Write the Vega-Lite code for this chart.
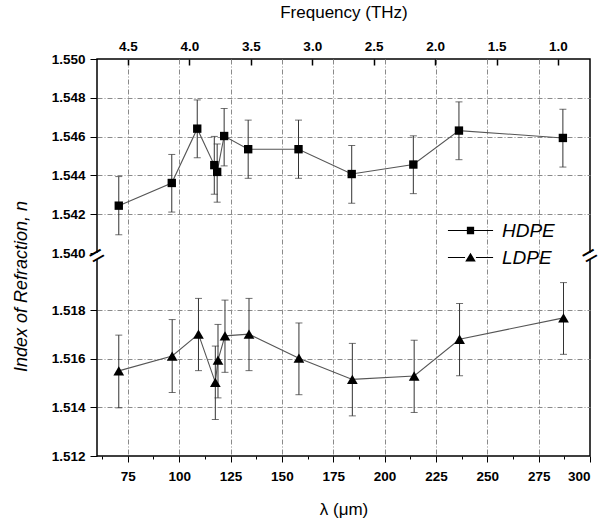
{
  "$schema": "https://vega.github.io/schema/vega-lite/v6.json",
  "width": 493,
  "height": 397,
  "autosize": "none",
  "padding": {"left": 97, "top": 59, "right": 10, "bottom": 67},
  "background": "white",
  "config": {
    "view": {"stroke": "black", "strokeWidth": 1.5},
    "font": "Liberation Sans",
    "axis": {"labelColor": "black", "titleColor": "black", "tickColor": "black", "labelFont": "Liberation Sans", "titleFont": "Liberation Sans"}
  },
  "datasets": {
    "pts": [
      {"series": "HDPE", "lam": 70.6, "n": 1.54244, "lo": 1.54094, "hi": 1.54394},
      {"series": "HDPE", "lam": 96.4, "n": 1.54361, "lo": 1.54211, "hi": 1.54508},
      {"series": "HDPE", "lam": 108.8, "n": 1.54641, "lo": 1.54491, "hi": 1.54789},
      {"series": "HDPE", "lam": 117.1, "n": 1.54453, "lo": 1.54303, "hi": 1.54601},
      {"series": "HDPE", "lam": 118.5, "n": 1.54418, "lo": 1.54262, "hi": 1.54562},
      {"series": "HDPE", "lam": 121.9, "n": 1.54603, "lo": 1.54449, "hi": 1.54745},
      {"series": "HDPE", "lam": 133.6, "n": 1.54535, "lo": 1.54385, "hi": 1.54685},
      {"series": "HDPE", "lam": 158.1, "n": 1.54535, "lo": 1.54385, "hi": 1.54685},
      {"series": "HDPE", "lam": 184.0, "n": 1.54407, "lo": 1.54257, "hi": 1.54554},
      {"series": "HDPE", "lam": 214.0, "n": 1.54456, "lo": 1.54306, "hi": 1.54604},
      {"series": "HDPE", "lam": 236.2, "n": 1.54631, "lo": 1.54481, "hi": 1.54779},
      {"series": "HDPE", "lam": 286.8, "n": 1.54593, "lo": 1.54443, "hi": 1.54741},
      {"series": "LDPE", "lam": 70.6, "n": 1.5155, "lo": 1.51398, "hi": 1.51697},
      {"series": "LDPE", "lam": 96.6, "n": 1.51611, "lo": 1.51461, "hi": 1.51761},
      {"series": "LDPE", "lam": 109.4, "n": 1.51701, "lo": 1.51551, "hi": 1.51848},
      {"series": "LDPE", "lam": 117.6, "n": 1.51503, "lo": 1.5135, "hi": 1.51652},
      {"series": "LDPE", "lam": 118.9, "n": 1.51594, "lo": 1.51439, "hi": 1.51741},
      {"series": "LDPE", "lam": 122.3, "n": 1.51694, "lo": 1.51544, "hi": 1.51841},
      {"series": "LDPE", "lam": 134.0, "n": 1.51701, "lo": 1.51551, "hi": 1.51848},
      {"series": "LDPE", "lam": 158.3, "n": 1.51602, "lo": 1.51452, "hi": 1.51747},
      {"series": "LDPE", "lam": 184.3, "n": 1.51515, "lo": 1.51365, "hi": 1.51663},
      {"series": "LDPE", "lam": 214.4, "n": 1.51529, "lo": 1.51379, "hi": 1.51676},
      {"series": "LDPE", "lam": 236.5, "n": 1.5168, "lo": 1.5153, "hi": 1.51827},
      {"series": "LDPE", "lam": 287.1, "n": 1.51768, "lo": 1.51618, "hi": 1.51913}
    ],
    "breaks": [{"side": 60, "gap": 1.53}, {"side": 300, "gap": 1.53}],
    "freq": [{"f": 2.5}]
  },
  "layer": [
    {
      "data": {"name": "pts"},
      "encoding": {
        "x": {
          "field": "lam", "type": "quantitative",
          "scale": {"domain": [60, 300], "nice": false, "zero": false},
          "axis": {
            "orient": "bottom",
            "values": [62.5, 75, 87.5, 100, 112.5, 125, 137.5, 150, 162.5, 175, 187.5, 200, 212.5, 225, 237.5, 250, 262.5, 275, 287.5, 300],
            "labelExpr": "datum.value % 25 === 0 ? datum.label : ''",
            "tickSize": {"condition": {"test": "datum.value % 25 === 0", "value": 6}, "value": 3},
            "tickWidth": 1,
            "labelFontSize": 13.5, "labelFontWeight": "bold", "labelPadding": 7,
            "domain": false,
            "grid": true, "gridColor": "#8a8a8a", "gridDash": [5, 2, 1, 2], "gridWidth": 1,
            "gridOpacity": {"condition": {"test": "datum.value % 25 === 0 && datum.value < 300", "value": 1}, "value": 0},
            "title": "λ (μm)", "titleFontSize": 17, "titleFontWeight": "normal", "titlePadding": 19
          }
        },
        "y": {
          "field": "n", "type": "quantitative",
          "scale": {"domain": [1.512, 1.5201, 1.54, 1.55], "range": [397, 200, 194, 0], "nice": false, "zero": false},
          "axis": {
            "values": [1.512, 1.514, 1.516, 1.518, 1.54, 1.542, 1.544, 1.546, 1.548, 1.55],
            "format": ".3f",
            "labelFontSize": 13.5, "labelFontWeight": "bold", "labelPadding": 5,
            "tickSize": 7, "tickWidth": 1,
            "domain": false,
            "grid": true, "gridColor": "#8a8a8a", "gridDash": [5, 2, 1, 2], "gridWidth": 1,
            "gridOpacity": {"condition": {"test": "datum.value == 1.54 || datum.value == 1.512 || datum.value == 1.55", "value": 0}, "value": 1},
            "title": "Index of Refraction, n", "titleFontSize": 18, "titleFontStyle": "italic", "titleFontWeight": "normal",
            "titleX": -67, "titleY": 227
          }
        }
      },
      "layer": [
        {
          "mark": {"type": "line", "color": "#555", "strokeWidth": 1.1},
          "encoding": {"detail": {"field": "series"}}
        },
        {
          "mark": {"type": "rule", "color": "#333", "strokeWidth": 1},
          "encoding": {"y": {"field": "lo", "type": "quantitative"}, "y2": {"field": "hi"}}
        },
        {
          "mark": {"type": "tick", "orient": "horizontal", "size": 7, "thickness": 1, "color": "#333"},
          "encoding": {"y": {"field": "lo", "type": "quantitative"}}
        },
        {
          "mark": {"type": "tick", "orient": "horizontal", "size": 7, "thickness": 1, "color": "#333"},
          "encoding": {"y": {"field": "hi", "type": "quantitative"}}
        },
        {
          "transform": [{"filter": "datum.series === 'HDPE'"}],
          "mark": {"type": "point", "shape": "square", "filled": true, "color": "black", "opacity": 1, "size": 70}
        },
        {
          "transform": [{"filter": "datum.series === 'LDPE'"}],
          "mark": {"type": "point", "shape": "triangle-up", "filled": true, "color": "black", "opacity": 1, "size": 115}
        },
        {
          "mark": {"type": "point", "filled": false, "color": "#444", "fill": "black", "opacity": 0},
          "encoding": {
            "shape": {
              "field": "series", "type": "nominal",
              "scale": {"domain": ["HDPE", "LDPE"], "range": ["M-6.2,-0.13H-1V0.13H-6.2ZM1,-0.13H6.2V0.13H1ZM-1,-1H1V1H-1Z", "M-6.2,-0.13H-1.5V0.13H-6.2ZM1.5,-0.13H6.2V0.13H1.5ZM0,-1.3L1.45,1.1H-1.45Z"]},
              "legend": {
                "title": null, "orient": "none", "legendX": 364, "legendY": 162, "padding": 0,
                "labelFontSize": 19, "labelFontStyle": "italic", "labelFont": "Liberation Sans", "labelColor": "black",
                "labelOffset": 22, "symbolSize": 53, "symbolFillColor": "#111", "symbolStrokeColor": "#111",
                "symbolStrokeWidth": 0, "symbolOpacity": 1, "rowPadding": 7
              }
            }
          }
        },
        {
          "data": {"name": "breaks"},
          "mark": {"type": "point", "shape": "square", "filled": true, "color": "white", "opacity": 1, "size": 40},
          "encoding": {
            "x": {"field": "side", "type": "quantitative", "scale": {"domain": [60, 300], "nice": false, "zero": false}},
            "y": {"field": "gap", "type": "quantitative"}
          }
        },
        {
          "data": {"name": "breaks"},
          "mark": {"type": "text", "text": "=", "fontSize": 26, "angle": -30, "align": "center", "baseline": "middle", "color": "black", "font": "Liberation Sans"},
          "encoding": {
            "x": {"field": "side", "type": "quantitative", "scale": {"domain": [60, 300], "nice": false, "zero": false}},
            "y": {"field": "gap", "type": "quantitative"}
          }
        }
      ]
    },
    {
      "data": {"name": "freq"},
      "mark": {"type": "point", "opacity": 0},
      "encoding": {
        "x": {
          "field": "f", "type": "quantitative",
          "scale": {"domain": [0.7395, 4.752], "reverse": true, "nice": false, "zero": false},
          "axis": {
            "orient": "top",
            "values": [4.5, 4.0, 3.5, 3.0, 2.5, 2.0, 1.5, 1.0],
            "format": ".1f",
            "grid": false, "domain": false,
            "tickSize": -6, "tickWidth": 1.5,
            "labelFontSize": 13.5, "labelFontWeight": "bold", "labelPadding": 12,
            "title": "Frequency (THz)", "titleFontSize": 17, "titleFontWeight": "normal", "titlePadding": 18
          }
        }
      }
    }
  ],
  "resolve": {"scale": {"x": "independent"}, "axis": {"x": "independent"}}
}
